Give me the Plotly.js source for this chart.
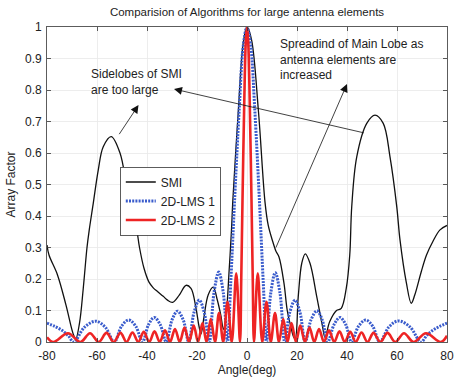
<!DOCTYPE html>
<html>
<head>
<meta charset="utf-8">
<script src="https://cdn.plot.ly/plotly-3.0.1.min.js"></script>
<style>html,body{margin:0;padding:0;background:#fff;}#chart{width:466px;height:380px;}</style>
</head>
<body>
<div id="chart"></div>
<script>
// ---- data ----
const seriesNames = ["SMI", "2D-LMS 1", "2D-LMS 2"];

const smiAngle = [-80, -79.2, -75.8, -72.4, -69.5, -68.5, -67, -65.5, -64, -63.1, -61.5, -59.5, -57.5, -54.3, -50.8, -48.1, -45.5, -44.1, -43, -41.2, -39.2, -37.5, -35.8, -33.5, -31.8, -29.8, -27.1, -24.4, -22.4, -20.4, -19.2, -18.4, -17.2, -15.5, -13.5, -11.9, -10.5, -9.4, -8.2, -7.2, -6.2, -5.7, -3.5, -1.5, 0, 1.8, 4.6, 7.2, 8.5, 10.1, 11.5, 12.8, 14.8, 16.1, 17.5, 18.7, 19.3, 20.5, 21.9, 23.3, 25.2, 27.9, 30.2, 31.2, 33.1, 35.8, 37.7, 39.7, 41.1, 41.9, 43.9, 47.9, 51.2, 54.5, 57.2, 59.9, 61.2, 63.7, 65.7, 67.1, 69.7, 71.8, 74.4, 77.2, 80];
const smiValue = [0.308, 0.276, 0.213, 0.117, 0.025, 0.01, 0.06, 0.17, 0.3, 0.356, 0.44, 0.546, 0.62, 0.652, 0.6, 0.493, 0.398, 0.356, 0.3, 0.234, 0.19, 0.172, 0.16, 0.145, 0.133, 0.126, 0.149, 0.18, 0.17, 0.107, 0.05, 0.025, 0.08, 0.15, 0.174, 0.134, 0.086, 0.04, 0.1, 0.22, 0.356, 0.444, 0.73, 0.95, 1, 0.96, 0.73, 0.444, 0.37, 0.324, 0.29, 0.27, 0.186, 0.1, 0.05, 0.015, 0.01, 0.144, 0.25, 0.28, 0.25, 0.144, 0.05, 0.015, 0.065, 0.10, 0.107, 0.17, 0.276, 0.43, 0.588, 0.694, 0.72, 0.694, 0.588, 0.43, 0.324, 0.19, 0.123, 0.149, 0.223, 0.276, 0.32, 0.356, 0.37];

const lms1Angle = [-80, -77, -74, -71.5, -69.3, -65, -60.5, -56.7, -53.1, -50.2, -47.3, -44.5, -41.8, -39.4, -37.1, -34.7, -32.3, -30, -27.8, -25.5, -23.3, -21.2, -19.1, -17.1, -15.1, -13.2, -11.3, -9.5, -7.8, -6.5, -5, -3.1, -1.5, 0, 1.5, 3.1, 5, 6.5, 7.8, 9.5, 11.3, 13.2, 15.1, 17.1, 19.2, 21.2, 23.3, 25.6, 28, 30.1, 32.3, 34.8, 37.2, 39.5, 41.8, 44.6, 47.5, 50.3, 53.1, 56.8, 60.5, 65.2, 69.6, 72, 74.5, 77.2, 80];
const lms1Value = [0.06, 0.05, 0.037, 0.02, 0, 0.047, 0.066, 0.047, 0, 0.05, 0.07, 0.05, 0, 0.055, 0.078, 0.055, 0, 0.07, 0.098, 0.07, 0, 0.094, 0.133, 0.094, 0, 0.157, 0.222, 0.157, 0, 0.19, 0.444, 0.74, 0.94, 1, 0.94, 0.74, 0.444, 0.19, 0, 0.155, 0.22, 0.155, 0, 0.094, 0.133, 0.094, 0, 0.07, 0.099, 0.07, 0, 0.055, 0.078, 0.055, 0, 0.05, 0.07, 0.05, 0, 0.048, 0.067, 0.048, 0, 0.022, 0.038, 0.05, 0.06];

const lms2Angle = [-80, -77.5, -71.6, -66.6, -62.8, -59.3, -56.2, -53.3, -50.6, -48.2, -45.8, -43.5, -41.3, -39.1, -37, -34.9, -32.8, -30.8, -28.8, -26.9, -25, -23.2, -21.3, -19.6, -17.8, -16.2, -14.5, -12.8, -11.2, -9.5, -7.8, -6.1, -4.3, -2.8, -2.3, -1.8, -1.1, -0.5, 0, 0.5, 1.1, 1.8, 2.3, 2.8, 4.3, 6.1, 7.8, 9.5, 11.2, 12.8, 14.5, 16.2, 17.8, 19.6, 21.3, 23.2, 25, 26.9, 28.8, 30.8, 32.8, 34.9, 37, 39.1, 41.3, 43.5, 45.8, 48.2, 50.6, 53.3, 56.2, 59.3, 62.8, 66.6, 71.6, 77.5, 80];
const lms2Value = [0.015, 0, 0.028, 0, 0.028, 0, 0.029, 0, 0.029, 0, 0.03, 0, 0.032, 0, 0.034, 0, 0.037, 0, 0.041, 0, 0.046, 0, 0.052, 0, 0.06, 0, 0.073, 0, 0.092, 0, 0.128, 0, 0.218, 0, 0.2, 0.45, 0.76, 0.95, 1, 0.95, 0.76, 0.45, 0.2, 0, 0.218, 0, 0.128, 0, 0.092, 0, 0.073, 0, 0.06, 0, 0.052, 0, 0.046, 0, 0.041, 0, 0.037, 0, 0.034, 0, 0.032, 0, 0.03, 0, 0.029, 0, 0.029, 0, 0.028, 0, 0.028, 0, 0.02];

const xTicks = [-80, -60, -40, -20, 0, 20, 40, 60, 80];
const yTicks = [0, 0.1, 0.2, 0.3, 0.4, 0.5, 0.6, 0.7, 0.8, 0.9, 1];
const yTickText = ["0", "0.1", "0.2", "0.3", "0.4", "0.5", "0.6", "0.7", "0.8", "0.9", "1"];

const titleText = "Comparision of Algorithms for large antenna elements";
const xTitle = "Angle(deg)";
const yTitle = "Array Factor";
const note1 = "Sidelobes of SMI<br>are too large";
const note2 = "Spreadind of Main Lobe as<br>antenna elements are<br>increased";

// ---- chart ----
const FONT = "Arial, 'Liberation Sans', Helvetica, sans-serif";
const traces = [
  {x: smiAngle, y: smiValue, name: seriesNames[0], mode: "lines",
   line: {color: "#111111", width: 1.3, shape: "spline", smoothing: 1}},
  {x: lms1Angle, y: lms1Value, name: seriesNames[1], mode: "lines",
   line: {color: "#3a5ccc", width: 3, dash: "2px,1.2px", shape: "spline", smoothing: 1}},
  {x: lms2Angle, y: lms2Value, name: seriesNames[2], mode: "lines",
   line: {color: "#ee2424", width: 2.6, shape: "spline", smoothing: 1}}
];

const axisCommon = {
  showline: true, linecolor: "#333333", linewidth: 0.8, mirror: "ticks",
  ticks: "inside", ticklen: 4, tickcolor: "#333333", tickwidth: 0.8,
  showgrid: true, gridcolor: "#e8e8e8", gridwidth: 0.8, zeroline: false,
  tickfont: {family: FONT, size: 12, color: "#222222"}
};

const layout = {
  width: 466, height: 380,
  margin: {l: 47, r: 19, t: 27, b: 38},
  paper_bgcolor: "#ffffff", plot_bgcolor: "#ffffff",
  font: {family: FONT, color: "#222222"},
  title: {text: titleText, font: {family: FONT, size: 11.5, color: "#222222"},
          xref: "paper", x: 0.5, xanchor: "center", yref: "container", y: 1 - 12/380, yanchor: "middle"},
  xaxis: Object.assign({}, axisCommon, {range: [-80, 80], tickvals: xTicks, ticktext: xTicks.map(String),
    ticklabelstandoff: 3,
    title: {text: xTitle, font: {family: FONT, size: 12, color: "#222222"}, standoff: 2}}),
  yaxis: Object.assign({}, axisCommon, {range: [0, 1], tickvals: yTicks, ticktext: yTickText,
    ticklabelstandoff: 2,
    title: {text: yTitle, font: {family: FONT, size: 12, color: "#222222"}, standoff: 6}}),
  showlegend: true,
  legend: {x: 0.1825, y: 0.5565, xanchor: "left", yanchor: "top",
           bgcolor: "#ffffff", bordercolor: "#333333", borderwidth: 0.8,
           font: {family: FONT, size: 12, color: "#222222"}},
  annotations: [
    {xref: "x", yref: "y", x: -63.1, y: 0.825, xanchor: "left", yanchor: "middle", align: "left",
     text: note1, showarrow: false, font: {family: FONT, size: 12, color: "#222222"}},
    {xref: "x", yref: "y", x: 12.4, y: 0.898, xanchor: "left", yanchor: "middle", align: "left",
     text: note2, showarrow: false, font: {family: FONT, size: 12, color: "#222222"}},
    {xref: "x", yref: "y", axref: "x", ayref: "y", x: -43.4, y: 0.752, ax: -51.5, ay: 0.655,
     text: "", showarrow: true, arrowhead: 2, arrowsize: 2, arrowwidth: 0.8, arrowcolor: "#111111"},
    {xref: "x", yref: "y", axref: "x", ayref: "y", x: -29.2, y: 0.803, ax: 47.3, ay: 0.663,
     text: "", showarrow: true, arrowhead: 2, arrowsize: 2, arrowwidth: 0.8, arrowcolor: "#111111"},
    {xref: "x", yref: "y", axref: "x", ayref: "y", x: 40, y: 0.819, ax: 11.3, ay: 0.295,
     text: "", showarrow: true, arrowhead: 2, arrowsize: 2, arrowwidth: 0.8, arrowcolor: "#111111"}
  ]
};

Plotly.newPlot("chart", traces, layout, {displayModeBar: false, staticPlot: true});
</script>
</body>
</html>
